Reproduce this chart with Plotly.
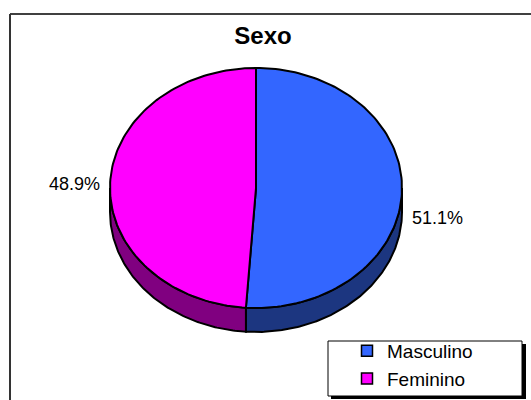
"""Excel-style 3D pie: Sexo (Masculino / Feminino)."""
import numpy as np
import plotly.graph_objects as go

categories = ["Masculino", "Feminino"]
values = [51.1, 48.9]
top_colors = ["#3366FF", "#FF00FF"]
side_colors = ["#1C3680", "#800080"]

# geometry of the tilted pie, in pixel units of the 531x400 canvas
CX, CY, RX, RY, DEPTH = 256, 188, 146, 120, 24
LABEL_GAP = 8
LABEL_DY = [26, 0]
FONT = "Liberation Sans, Arial, sans-serif"


def arc(a0, a1, dy=0.0, n=120):
    t = np.radians(np.linspace(a0, a1, n))
    return CX + RX * np.sin(t), CY - RY * np.cos(t) + dy


shares = np.array(values) / sum(values) * 360
ends = np.cumsum(shares)
starts = ends - shares

fig = go.Figure()

# side walls (front half only: 90..270 degrees clockwise from top)
for s, e, col in zip(starts, ends, side_colors):
    a, b = max(s, 90), min(e, 270)
    if b <= a:
        continue
    tx, ty = arc(a, b)
    bx, by = arc(b, a, DEPTH)
    fig.add_trace(go.Scatter(
        x=np.r_[tx, bx, tx[:1]], y=np.r_[ty, by, ty[:1]],
        mode="lines", fill="toself", fillcolor=col,
        line=dict(color="black", width=2), showlegend=False, hoverinfo="skip",
    ))

# top faces
for name, v, s, e, col in zip(categories, values, starts, ends, top_colors):
    ax, ay = arc(s, e)
    fig.add_trace(go.Scatter(
        x=np.r_[CX, ax, CX], y=np.r_[CY, ay, CY],
        mode="lines", fill="toself", fillcolor=col,
        line=dict(color="black", width=2), showlegend=False,
        name=name, hovertemplate=f"{name}: {v:.1f}%<extra></extra>",
    ))

# percentage labels
for v, s, e, dy in zip(values, starts, ends, LABEL_DY):
    mid = np.radians((s + e) / 2)
    right = np.sin(mid) > 0
    fig.add_annotation(
        x=CX + (RX + LABEL_GAP) * np.sin(mid),
        y=CY - RY * np.cos(mid) + dy,
        text=f"{v:.1f}%", showarrow=False,
        xanchor="left" if right else "right", yanchor="middle",
        font=dict(family=FONT, size=18, color="black"),
    )

# legend entries
for name, col in zip(categories, top_colors):
    fig.add_trace(go.Scatter(
        x=[None], y=[None], mode="markers", name=name,
        marker=dict(symbol="square", size=11, color=col,
                    line=dict(color="black", width=1.5)),
    ))

W, H = 531, 400
px = lambda v: v / W
py = lambda v: 1 - v / H

fig.update_layout(
    width=W, height=H,
    margin=dict(l=0, r=0, t=0, b=0),
    paper_bgcolor="white", plot_bgcolor="white",
    xaxis=dict(range=[0, W], visible=False, fixedrange=True),
    yaxis=dict(range=[H, 0], visible=False, fixedrange=True),
    title=dict(text="<b>Sexo</b>", x=px(263), xanchor="center",
               y=py(36), yanchor="middle",
               font=dict(family=FONT, size=24, color="black")),
    legend=dict(x=px(347), y=py(398), xanchor="left", yanchor="bottom",
                bgcolor="rgba(0,0,0,0)", borderwidth=0, itemwidth=30,
                tracegroupgap=0,
                font=dict(family=FONT, size=19, color="black")),
    shapes=[
        # chart area border (top and left edges; the rest runs off-canvas)
        dict(type="line", xref="paper", yref="paper",
             x0=px(10), x1=1, y0=py(14), y1=py(14),
             line=dict(color="black", width=1.5)),
        dict(type="line", xref="paper", yref="paper",
             x0=px(10), x1=px(10), y0=py(14), y1=0,
             line=dict(color="#333333", width=2)),
        # legend shadow and box
        dict(type="rect", xref="paper", yref="paper",
             x0=px(331), x1=px(526), y0=py(399), y1=py(344),
             fillcolor="black", line=dict(width=0), layer="below"),
        dict(type="rect", xref="paper", yref="paper",
             x0=px(328), x1=px(522), y0=py(396), y1=py(341),
             fillcolor="white", line=dict(color="black", width=1),
             layer="below"),
    ],
)

fig.write_html(
    "out.html",
    config={"displayModeBar": False},
    post_script="document.body.style.margin='0';document.body.style.overflow='hidden';",
)
